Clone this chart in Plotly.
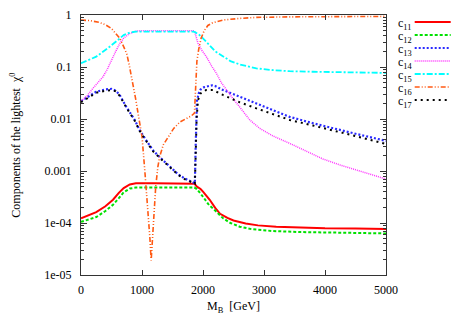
import plotly.graph_objects as go

# ---------------- data ----------------
m11 = [0, 250, 400, 525, 620, 700, 800, 900, 1200, 1500, 1860, 1900, 1960, 2000, 2110, 2200, 2280, 2400, 2500, 2700, 2900, 3200, 3500, 4000, 4500, 5000]
c11 = [1.23e-4, 1.62e-4, 2.1e-4, 2.8e-4, 3.8e-4, 4.7e-4, 5.5e-4, 5.8e-4, 5.8e-4, 5.75e-4, 5.7e-4, 5.0e-4, 4.5e-4, 4.0e-4, 2.8e-4, 1.95e-4, 1.5e-4, 1.25e-4, 1.12e-4, 9.8e-5, 9.0e-5, 8.5e-5, 8.2e-5, 7.9e-5, 7.8e-5, 7.7e-5]

m12 = [0, 250, 400, 525, 620, 700, 800, 900, 1860, 1900, 2000, 2100, 2164, 2250, 2330, 2450, 2600, 2800, 3150, 3600, 4200, 5000]
c12 = [1.05e-4, 1.3e-4, 1.7e-4, 2.25e-4, 3.0e-4, 3.9e-4, 4.6e-4, 4.8e-4, 4.8e-4, 4.5e-4, 3.2e-4, 2.2e-4, 1.9e-4, 1.5e-4, 1.23e-4, 1.0e-4, 8.5e-5, 7.6e-5, 7.0e-5, 6.7e-5, 6.5e-5, 6.3e-5]

m13 = [0, 100, 250, 400, 500, 570, 634, 700, 744, 880, 962, 1050, 1180, 1300, 1454, 1600, 1700, 1810, 1866, 1880, 1890, 1900, 1930, 1960, 2020, 2110, 2150, 2200, 2328, 2600, 2875, 3150, 3421, 3800, 4131, 4500, 5000]
c13 = [0.022, 0.026, 0.0335, 0.037, 0.038, 0.035, 0.029, 0.021, 0.017, 0.0096, 0.0061, 0.0042, 0.0025, 0.0018, 0.0012, 8.5e-4, 7.2e-4, 6.2e-4, 5.8e-4, 0.003, 0.012, 0.022, 0.031, 0.037, 0.041, 0.044, 0.0445, 0.043, 0.036, 0.027, 0.020, 0.015, 0.011, 0.0083, 0.0066, 0.0052, 0.0038]

m14 = [0, 100, 197, 280, 361, 430, 498, 560, 634, 700, 798, 900, 1000, 1840, 1865, 1918, 1980, 2055, 2140, 2219, 2300, 2383, 2500, 2602, 2766, 2930, 3150, 3421, 3700, 3967, 4250, 4514, 4750, 5000]
c14 = [0.022, 0.028, 0.039, 0.05, 0.065, 0.09, 0.136, 0.19, 0.28, 0.36, 0.44, 0.49, 0.5, 0.5, 0.47, 0.285, 0.21, 0.158, 0.105, 0.076, 0.05, 0.036, 0.024, 0.017, 0.0096, 0.0066, 0.0047, 0.0034, 0.0024, 0.0017, 0.0013, 0.00104, 8.5e-4, 7.0e-4]

m15 = [0, 250, 470, 634, 700, 798, 900, 1840, 1870, 1946, 2030, 2110, 2200, 2328, 2450, 2602, 2875, 3150, 3421, 3800, 4241, 5000]
c15 = [0.118, 0.158, 0.245, 0.36, 0.41, 0.46, 0.48, 0.48, 0.47, 0.41, 0.33, 0.26, 0.2, 0.158, 0.13, 0.112, 0.094, 0.087, 0.083, 0.081, 0.080, 0.077]

m16 = [0, 150, 300, 400, 500, 570, 634, 690, 750, 790, 830, 870, 900, 930, 962, 1000, 1045, 1075, 1100, 1130, 1150, 1170, 1190, 1225, 1260, 1290, 1350, 1430, 1520, 1620, 1720, 1810, 1860, 1875, 1890, 1900, 1930, 1970, 2020, 2080, 2150, 2330, 2600, 2880, 3400, 4000, 5000]
c16 = [0.80, 0.78, 0.72, 0.65, 0.55, 0.45, 0.36, 0.26, 0.18, 0.11, 0.065, 0.035, 0.023, 0.014, 0.0083, 0.0046, 0.00105, 4e-4, 1.55e-4, 5e-5, 1.9e-5, 5e-5, 1.1e-4, 5e-4, 0.0012, 0.0019, 0.0032, 0.0046, 0.0066, 0.0087, 0.0102, 0.0115, 0.013, 0.03, 0.08, 0.13, 0.22, 0.36, 0.5, 0.63, 0.70, 0.80, 0.86, 0.90, 0.92, 0.93, 0.94]

m17 = [0, 100, 250, 400, 500, 570, 634, 700, 744, 880, 962, 1050, 1180, 1300, 1454, 1600, 1700, 1810, 1866, 1880, 1895, 1918, 1960, 2050, 2163, 2328, 2600, 2875, 3150, 3421, 3800, 4131, 4500, 5000]
c17 = [0.021, 0.025, 0.032, 0.035, 0.036, 0.034, 0.028, 0.0205, 0.0165, 0.0093, 0.0059, 0.0041, 0.0024, 0.00175, 0.00118, 8.3e-4, 7.0e-4, 6.1e-4, 5.7e-4, 0.002, 0.01, 0.023, 0.031, 0.036, 0.036, 0.029, 0.021, 0.016, 0.0123, 0.0096, 0.0075, 0.0061, 0.0047, 0.0033]

names = ["c<sub>11</sub>", "c<sub>12</sub>", "c<sub>13</sub>", "c<sub>14</sub>",
         "c<sub>15</sub>", "c<sub>16</sub>", "c<sub>17</sub>"]
xs = [m11, m12, m13, m14, m15, m16, m17]
ys = [c11, c12, c13, c14, c15, c16, c17]

y_tickvals = [1, 0.1, 0.01, 0.001, 1e-4, 1e-5]
y_ticktext = ["1", "0.1", "0.01", "0.001", "1e-04", "1e-05"]
x_tickvals = [0, 1000, 2000, 3000, 4000, 5000]

# ---------------- styles ----------------
colors = ["#ff0000", "#00e000", "#2a2aff", "#ff33ff", "#00ffff", "#ff5a14", "#000000"]
dashes = ["solid", "3px,2px", "2px,2px", "1px,1px", "6px,2px,2px,2px",
          "5px,2px,1px,2px,1px,2px", "2px,4px"]
widths = [2, 2, 2.2, 1.5, 1.8, 1.6, 2]

FONT = "Liberation Serif"

fig = go.Figure()
for i in range(7):
    fig.add_trace(go.Scatter(
        x=xs[i], y=ys[i], mode="lines", name=names[i], showlegend=False,
        line=dict(color=colors[i], dash=dashes[i], width=widths[i]),
    ))

minor_y = [k * 10 ** e for e in range(-5, 0) for k in range(2, 10)]

fig.update_layout(
    width=467, height=327,
    margin=dict(l=81, r=81, t=15, b=52, autoexpand=False),
    paper_bgcolor="white", plot_bgcolor="white",
    font=dict(family=FONT, size=12, color="black"),
    xaxis=dict(range=[0, 5000], tickmode="array", tickvals=x_tickvals,
               ticks="inside", ticklen=5, tickcolor="#333", showgrid=False,
               zeroline=False, showline=True, linecolor="#333", linewidth=1,
               mirror="allticks", ticklabelstandoff=4, automargin=False,
               tickfont=dict(family=FONT, size=12)),
    yaxis=dict(type="log", range=[-5, 0], tickmode="array", tickvals=y_tickvals,
               ticktext=y_ticktext, ticks="inside", ticklen=6, tickcolor="#333",
               showgrid=False, zeroline=False, showline=True, linecolor="#333",
               linewidth=1, mirror="allticks", ticklabelstandoff=6, automargin=False,
               tickfont=dict(family=FONT, size=12),
               minor=dict(tickmode="array", tickvals=minor_y, ticks="inside",
                          ticklen=3, tickcolor="#333", showgrid=False)),
)

# axis titles
fig.add_annotation(text="M<sub>B</sub>  [GeV]", xref="paper", yref="paper",
                   x=0.5, y=(275 - 307) / 260, xanchor="center", yanchor="middle",
                   showarrow=False, font=dict(family=FONT, size=12))
fig.add_annotation(text="Components of the lightest  χ<sup>0</sup>", xref="paper",
                   yref="paper", x=(15 - 81.3) / 305, y=0.5, textangle=-90,
                   xanchor="center", yanchor="middle", showarrow=False,
                   font=dict(family=FONT, size=12))

# legend (text on the left, sample line on the right)
for i in range(7):
    ypix = 22 + 13 * i
    yp = (275 - ypix) / 260
    fig.add_annotation(text=names[i], xref="paper", yref="paper",
                       x=(396 - 81.3) / 305, y=(275 - ypix - 2) / 260,
                       xanchor="left", yanchor="middle", showarrow=False,
                       font=dict(family=FONT, size=12))
    fig.add_shape(type="line", xref="paper", yref="paper",
                  x0=(415 - 81.3) / 305, x1=(451 - 81.3) / 305, y0=yp, y1=yp,
                  line=dict(color=colors[i], dash=dashes[i], width=widths[i]))

fig.write_html("out.html", config={"displayModeBar": False},
               post_script="document.body.style.margin='0';document.body.style.overflow='hidden';")
